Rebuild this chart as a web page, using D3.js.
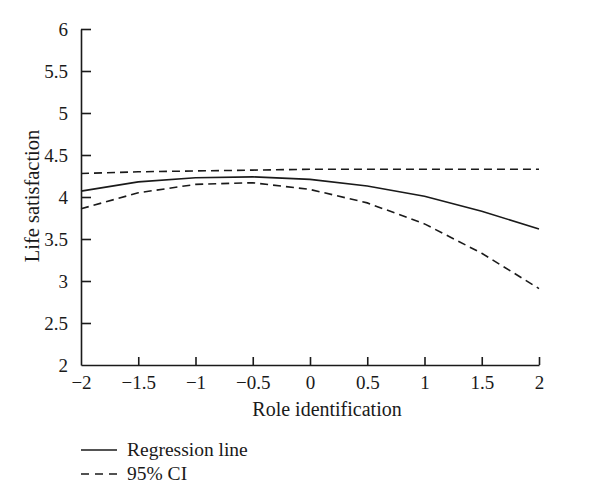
<!DOCTYPE html>
<html>
<head>
<meta charset="utf-8">
<script src="https://cdn.jsdelivr.net/npm/d3@7"></script>
<style>
  body { margin: 0; background: #fff; }
  text { font-family: "Liberation Serif", "DejaVu Serif", serif; fill: #1a1a1a; }
</style>
</head>
<body>
<svg id="chart" width="600" height="502"></svg>
<script>
// data
var xValues = [-2, -1.5, -1, -0.5, 0, 0.5, 1, 1.5, 2]
var regression = [4.07, 4.18, 4.23, 4.24, 4.21, 4.13, 4.01, 3.83, 3.62]
var ciUpper = [4.28, 4.30, 4.31, 4.32, 4.33, 4.33, 4.33, 4.33, 4.33]
var ciLower = [3.86, 4.05, 4.15, 4.17, 4.09, 3.93, 3.68, 3.33, 2.91]
var xTicks = [-2, -1.5, -1, -0.5, 0, 0.5, 1, 1.5, 2]
var yTicks = [2, 2.5, 3, 3.5, 4, 4.5, 5, 5.5, 6]

var svg = d3.select('#chart')
var plotLeft = 81, plotRight = 539, plotTop = 29, plotBottom = 365

var x = d3.scaleLinear().domain([-2, 2]).range([plotLeft, plotRight])
var y = d3.scaleLinear().domain([2, 6]).range([plotBottom, plotTop])

var fmt = function(d) { return String(d).replace('-', '\u2212') }

var xAxis = svg.append('g')
    .attr('transform', 'translate(0,' + plotBottom + ')')
    .call(d3.axisBottom(x).tickValues(xTicks).tickSizeInner(-8).tickSizeOuter(0).tickPadding(8).tickFormat(fmt))

var yAxis = svg.append('g')
    .attr('transform', 'translate(' + plotLeft + ',0)')
    .call(d3.axisLeft(y).tickValues(yTicks).tickSizeInner(-10).tickSizeOuter(0).tickPadding(10).tickFormat(fmt))

svg.selectAll('.domain, .tick line').attr('stroke', '#1a1a1a').attr('stroke-width', 1.6)
svg.selectAll('.tick text').style('font-size', '19px').attr('fill', '#1a1a1a')
xAxis.selectAll('.tick text').attr('dy', '0.85em')
yAxis.selectAll('.tick text').attr('x', -13)
// no tick at the corner
xAxis.selectAll('.tick line').filter(d => d === -2).remove()
yAxis.selectAll('.tick line').filter(d => d === 2).remove()

svg.append('text')
    .attr('x', (plotLeft + plotRight) / 2 + 17)
    .attr('y', 416)
    .attr('text-anchor', 'middle')
    .style('font-size', '20px')
    .text('Role identification')

svg.append('text')
    .attr('transform', 'translate(39,' + ((plotTop + plotBottom) / 2 - 1) + ') rotate(-90)')
    .attr('text-anchor', 'middle')
    .style('font-size', '20.5px')
    .text('Life satisfaction')

var line = d3.line()
    .x((d, i) => x(xValues[i]))
    .y(d => y(d))

var series = [
    { name: 'Regression line', values: regression, dash: null },
    { name: '95% CI', values: ciUpper, dash: '8,5' },
    { name: '95% CI', values: ciLower, dash: '8,5' }
]

svg.selectAll('path.series')
    .data(series)
    .enter()
    .append('path')
    .attr('class', 'series')
    .attr('d', d => line(d.values))
    .attr('fill', 'none')
    .attr('stroke', '#1a1a1a')
    .attr('stroke-width', 1.6)
    .attr('stroke-dasharray', d => d.dash)

// legend
var legend = [
    { name: 'Regression line', dash: null },
    { name: '95% CI', dash: '8,6' }
]
var lg = svg.selectAll('g.legend')
    .data(legend)
    .enter()
    .append('g')
    .attr('class', 'legend')
    .attr('transform', (d, i) => 'translate(81,' + (450 + i * 24) + ')')

lg.append('line')
    .attr('x1', 0).attr('x2', 36)
    .attr('y1', 0).attr('y2', 0)
    .attr('stroke', '#1a1a1a')
    .attr('stroke-width', 1.6)
    .attr('stroke-dasharray', d => d.dash)

lg.append('text')
    .attr('x', 46)
    .attr('y', 0)
    .attr('dy', '0.32em')
    .style('font-size', '19.5px')
    .text(d => d.name)
</script>
</body>
</html>
